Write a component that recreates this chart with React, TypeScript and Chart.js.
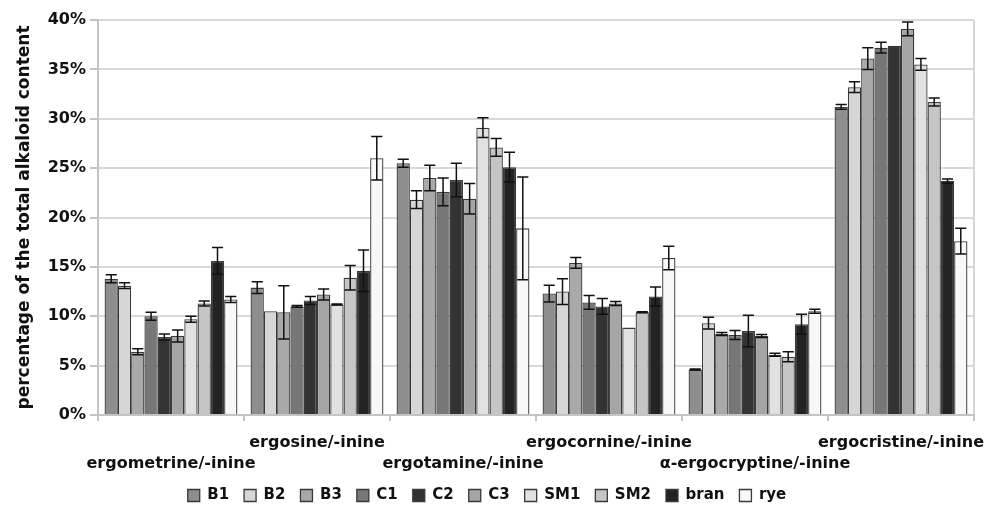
import React, { useEffect, useRef } from "react";
import { Chart, registerables } from "chart.js";

Chart.register(...registerables);

// Alkaloid groups on the x axis (every other label sits one line lower)
const categories = [
  "ergometrine/-inine",
  "ergosine/-inine",
  "ergotamine/-inine",
  "ergocornine/-inine",
  "α-ergocryptine/-inine",
  "ergocristine/-inine",
];

const seriesNames = ["B1", "B2", "B3", "C1", "C2", "C3", "SM1", "SM2", "bran", "rye"];

// Share of the total alkaloid content, % (mean per sample)
const b1 = [13.8, 12.9, 25.5, 12.3, 4.6, 31.2];
const b2 = [13.1, 10.5, 21.8, 12.5, 9.3, 33.2];
const b3 = [6.4, 10.4, 24.0, 15.4, 8.2, 36.1];
const c1 = [10.0, 11.0, 22.6, 11.4, 8.1, 37.2];
const c2 = [7.9, 11.6, 23.8, 11.0, 8.5, 37.4];
const c3 = [8.0, 12.2, 21.9, 11.3, 8.0, 39.1];
const sm1 = [9.7, 11.2, 29.1, 8.85, 6.1, 35.5];
const sm2 = [11.3, 13.9, 27.1, 10.4, 5.9, 31.7];
const bran = [15.6, 14.6, 25.1, 12.0, 9.2, 23.7];
const rye = [11.7, 26.0, 18.9, 15.9, 10.5, 17.6];

// Standard deviations, %
const b1Err = [0.4, 0.6, 0.4, 0.85, 0.05, 0.25];
const b2Err = [0.3, 0.0, 0.9, 1.3, 0.6, 0.55];
const b3Err = [0.3, 2.7, 1.3, 0.55, 0.15, 1.1];
const c1Err = [0.4, 0.1, 1.4, 0.7, 0.45, 0.55];
const c2Err = [0.3, 0.4, 1.7, 0.8, 1.6, 0.0];
const c3Err = [0.6, 0.55, 1.55, 0.2, 0.15, 0.7];
const sm1Err = [0.3, 0.05, 1.0, 0.0, 0.15, 0.6];
const sm2Err = [0.25, 1.25, 0.9, 0.05, 0.5, 0.4];
const branErr = [1.35, 2.1, 1.5, 0.95, 1.0, 0.2];
const ryeErr = [0.3, 2.2, 5.2, 1.2, 0.2, 1.3];

const yTicks = [0, 5, 10, 15, 20, 25, 30, 35, 40];

const seriesValues = [b1, b2, b3, c1, c2, c3, sm1, sm2, bran, rye];
const seriesErrors = [b1Err, b2Err, b3Err, c1Err, c2Err, c3Err, sm1Err, sm2Err, branErr, ryeErr];
const fills = [
  "#8e8e8e", "#d6d6d6", "#a9a9a9", "#777777", "#333333",
  "#a5a5a5", "#e1e1e1", "#c5c5c5", "#232323", "#f8f8f8",
];

const FONT = "'DejaVu Sans', sans-serif";

// Draws the ± error whiskers on top of every bar
const errorBars = {
  id: "errorBars",
  afterDatasetsDraw(chart: any) {
    const ctx = chart.ctx;
    const yScale = chart.scales.y;
    ctx.save();
    ctx.strokeStyle = "#111";
    ctx.lineWidth = 1.5;
    chart.data.datasets.forEach((ds: any, i: number) => {
      const meta = chart.getDatasetMeta(i);
      meta.data.forEach((bar: any, j: number) => {
        const err = ds.errors[j];
        if (!err) return;
        const v = ds.data[j];
        const top = yScale.getPixelForValue(v + err);
        const bot = yScale.getPixelForValue(v - err);
        const half = bar.width * 0.42;
        ctx.beginPath();
        ctx.moveTo(bar.x, top);
        ctx.lineTo(bar.x, bot);
        ctx.moveTo(bar.x - half, top);
        ctx.lineTo(bar.x + half, top);
        ctx.moveTo(bar.x - half, bot);
        ctx.lineTo(bar.x + half, bot);
        ctx.stroke();
      });
    });
    ctx.restore();
  },
};

export default function App() {
  const canvasRef = useRef<HTMLCanvasElement | null>(null);

  useEffect(() => {
    if (!canvasRef.current) return;
    Chart.defaults.color = "#111";
    const chart = new Chart(canvasRef.current, {
      type: "bar",
      data: {
        labels: categories.map((c, i) => (i % 2 === 0 ? ["", c] : [c, ""])),
        datasets: seriesNames.map((name, i) => ({
          label: name,
          data: seriesValues[i],
          errors: seriesErrors[i],
          backgroundColor: fills[i],
          borderColor: "#3a3a3a",
          borderWidth: 1.3,
          categoryPercentage: 0.91,
          barPercentage: 1.0,
        })) as any,
      },
      options: {
        animation: false,
        responsive: false,
        layout: { padding: { top: 20, right: 23, bottom: 0, left: 0 } },
        plugins: {
          tooltip: { enabled: false },
          legend: {
            position: "bottom",
            labels: {
              boxWidth: 12,
              boxHeight: 12,
              padding: 15,
              color: "#111",
              font: { family: FONT, size: 15, weight: "bold", lineHeight: 1.2 },
            },
          },
        },
        scales: {
          x: {
            afterFit(scale: any) {
              scale.height = 58;
            },
            grid: {
              offset: true,
              drawOnChartArea: true,
              color: (ctx: any) => (ctx.type === "tick" ? "rgba(0,0,0,0)" : "#d6d6d6"),
              lineWidth: 2,
              tickColor: "#c4c4c4",
              tickLength: 6,
            },
            border: { color: "#c4c4c4", width: 2 },
            ticks: {
              maxRotation: 0,
              autoSkip: false,
              padding: 11,
              color: "#111",
              font: { family: FONT, size: 16, weight: "bold", lineHeight: 1.33 },
            },
          },
          y: {
            min: 0,
            max: 40,
            afterFit(scale: any) {
              scale.width = 98;
            },
            afterBuildTicks(scale: any) {
              scale.ticks = yTicks.map((v) => ({ value: v }));
            },
            grid: { color: "#d9d9d9", lineWidth: 2, tickColor: "#c4c4c4", tickLength: 8 },
            border: { color: "#c4c4c4", width: 2 },
            ticks: {
              padding: 4,
              color: "#111",
              callback: (v: any) => v + "%",
              font: { family: FONT, size: 16, weight: "bold" },
            },
            title: {
              display: true,
              text: "percentage of the total alkaloid content",
              color: "#111",
              padding: { top: 14, bottom: 0 },
              font: { family: FONT, size: 17, weight: "bold" },
            },
          },
        },
      },
      plugins: [errorBars],
    });
    return () => chart.destroy();
  }, []);

  return (
    <div style={{ position: "absolute", left: 0, top: 0, width: 997, height: 513, background: "#fff" }}>
      <canvas ref={canvasRef} width={997} height={513} />
    </div>
  );
}
